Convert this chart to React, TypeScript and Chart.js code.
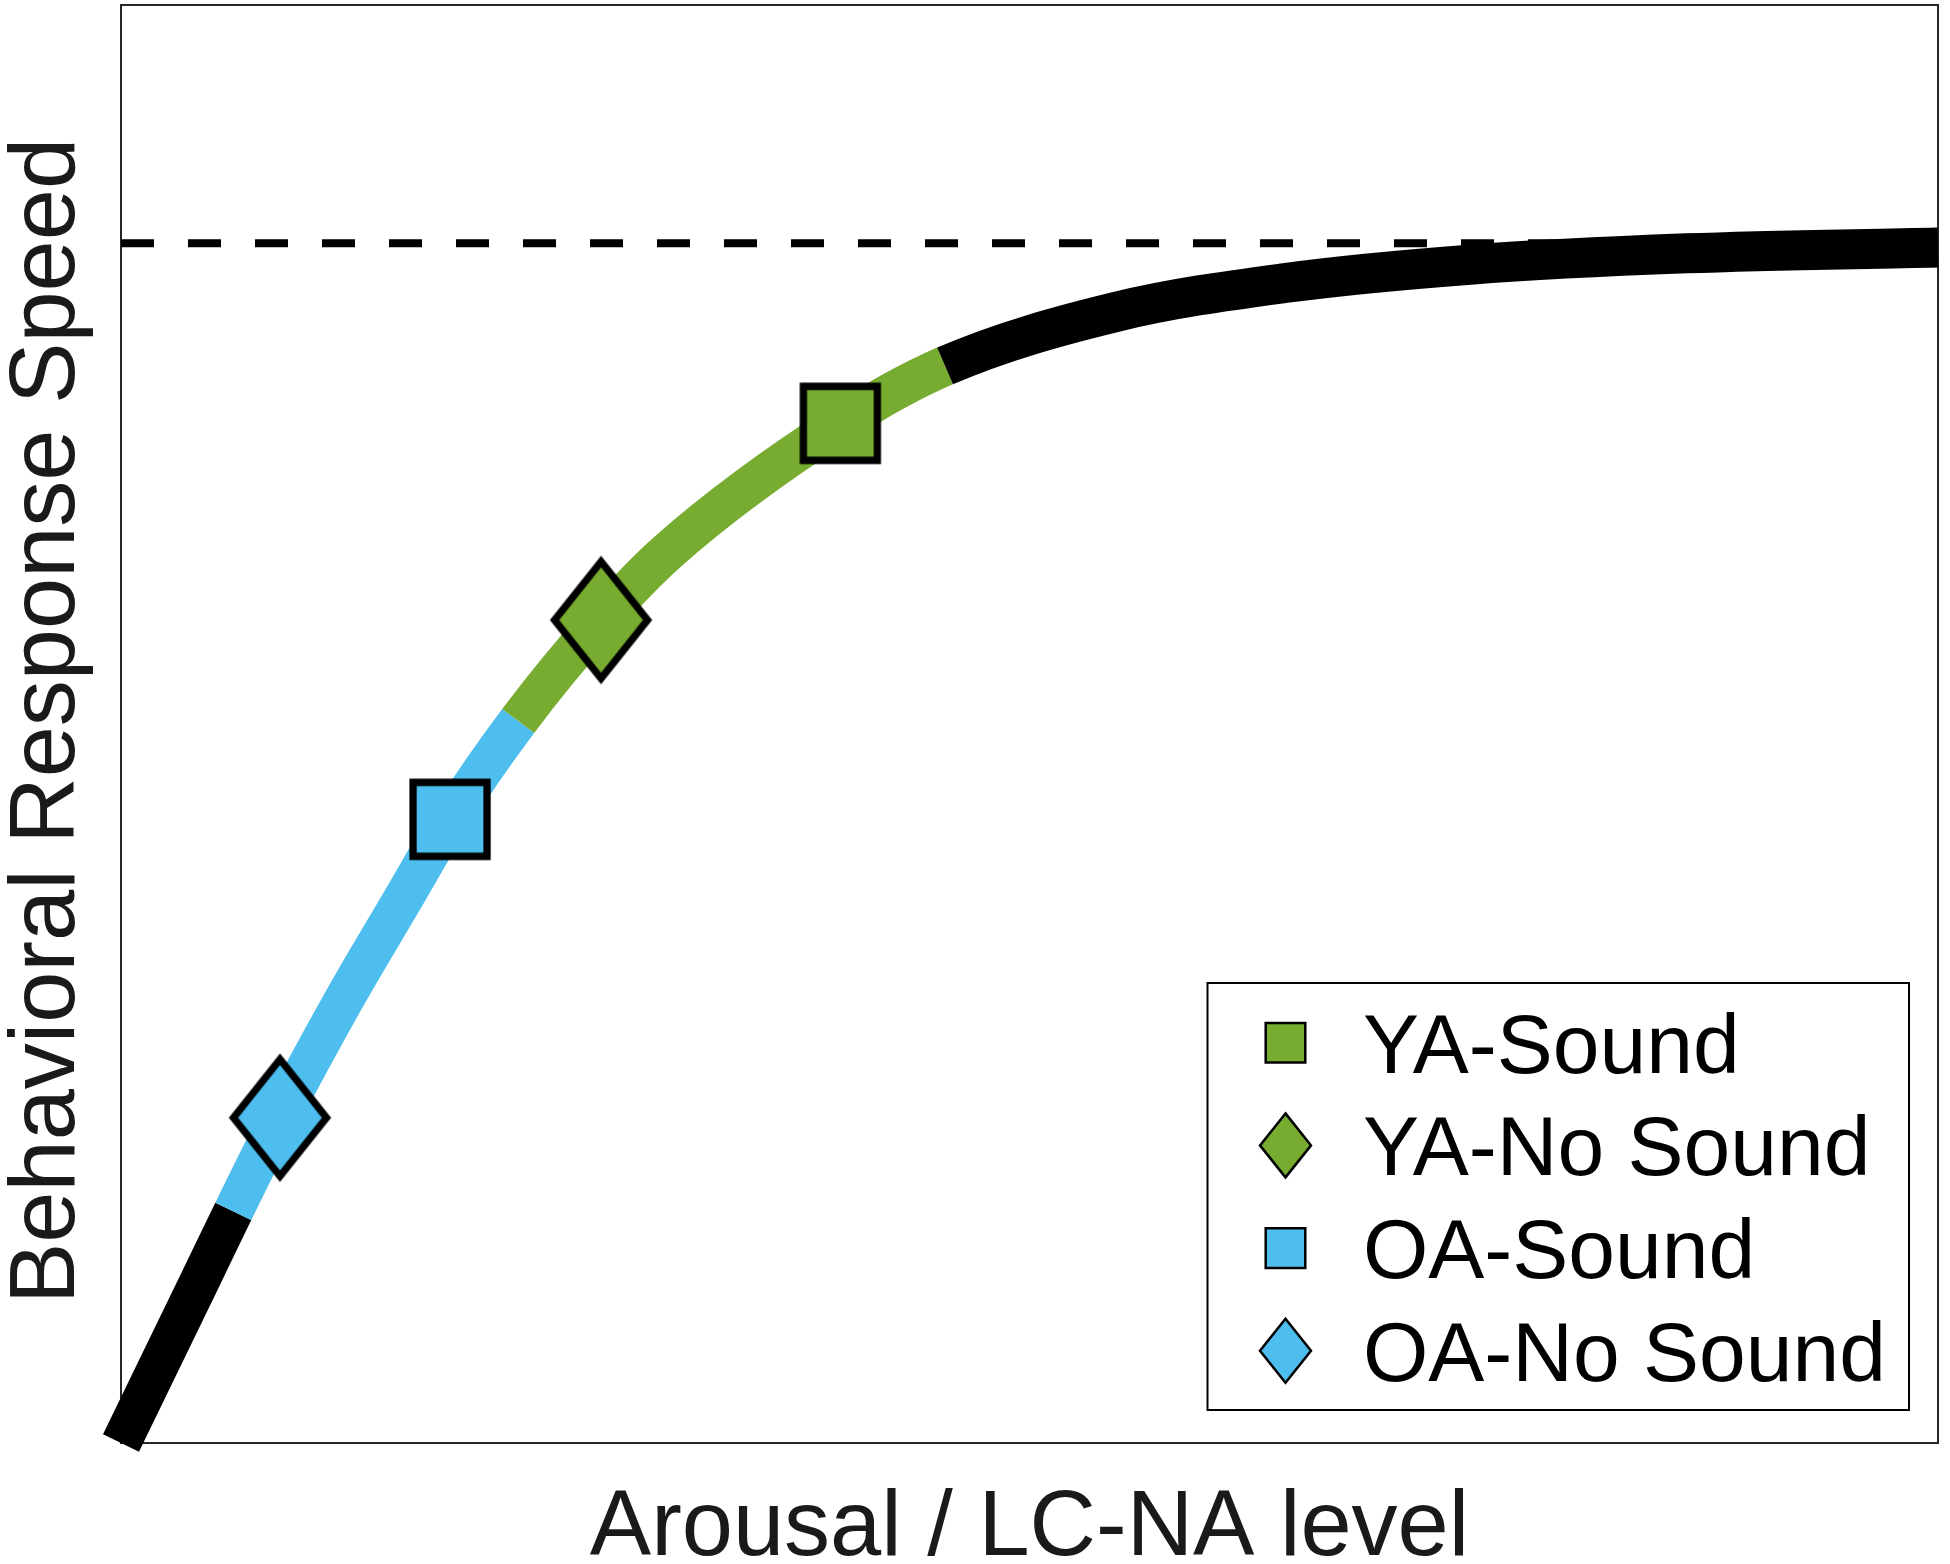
import React, { useEffect, useRef } from 'react';
import { Chart, registerables } from 'chart.js';

Chart.register(...registerables);

// ---- data ----
const curveX = [0, 4.27, 6.18, 8.75, 12.26, 15.46, 18.11, 21.86, 26.42, 30.1, 39.59, 45.35, 54.8, 63.97, 74.24, 86.17, 100];
const curveY = [0, 11.11, 16.11, 22.62, 30.81, 37.7, 43.37, 50.21, 57.23, 62.0, 70.91, 74.9, 78.67, 80.65, 81.94, 82.73, 83.14];
const segmentBreaksX = [6.18, 21.86, 45.35];
const segmentColors = ['#000000', '#4DBEEE', '#77AC30', '#000000'];
const asymptoteY = 83.43;
const asymptoteX = [0, 100];

const groupLabels = ['YA-Sound', 'YA-No Sound', 'OA-Sound', 'OA-No Sound'];
const groupX = [39.59, 26.42, 18.11, 8.75];
const groupY = [70.91, 57.23, 43.37, 22.62];
const groupColors = ['#77AC30', '#77AC30', '#4DBEEE', '#4DBEEE'];
const groupShapes = ['square', 'diamond', 'square', 'diamond'];

const xAxisTitle = 'Arousal / LC-NA level';
const yAxisTitle = 'Behavioral Response Speed';

const FONT = '"Liberation Sans", Arial, Helvetica, sans-serif';

function markerPath(ctx: CanvasRenderingContext2D, shape: string, cx: number, cy: number, hw: number, hh: number) {
  ctx.beginPath();
  if (shape === 'square') {
    ctx.rect(cx - hw, cy - hh, hw * 2, hh * 2);
  } else {
    ctx.moveTo(cx, cy - hh);
    ctx.lineTo(cx + hw, cy);
    ctx.lineTo(cx, cy + hh);
    ctx.lineTo(cx - hw, cy);
    ctx.closePath();
  }
}

function makeMarker(shape: string, color: string): HTMLCanvasElement {
  const c = document.createElement('canvas');
  const hw = shape === 'square' ? 37 : 46.5;
  const hh = shape === 'square' ? 37 : 58.5;
  c.width = Math.ceil(hw * 2 + 24);
  c.height = Math.ceil(hh * 2 + 24);
  const g = c.getContext('2d')!;
  markerPath(g, shape, c.width / 2, c.height / 2, hw, hh);
  g.fillStyle = color;
  g.fill();
  g.lineWidth = 7.3;
  g.lineJoin = 'miter';
  g.strokeStyle = '#000000';
  g.stroke();
  return c;
}

const decorPlugin = {
  id: 'decor',
  beforeDatasetsDraw(chart: any) {
    const { ctx, chartArea: a } = chart;
    ctx.save();
    ctx.strokeStyle = '#262626';
    ctx.lineWidth = 2;
    ctx.strokeRect(a.left, a.top, a.right - a.left, a.bottom - a.top);
    ctx.restore();
  },
  afterDraw(chart: any) {
    const { ctx, chartArea: a } = chart;
    ctx.save();
    ctx.fillStyle = '#1a1a1a';
    ctx.font = `92px ${FONT}`;
    ctx.textAlign = 'center';
    ctx.textBaseline = 'alphabetic';
    ctx.fillText(xAxisTitle, (a.left + a.right) / 2, a.bottom + 112);
    ctx.save();
    ctx.translate(74, (a.top + a.bottom) / 2 - 3);
    ctx.rotate(-Math.PI / 2);
    ctx.fillText(yAxisTitle, 0, 0);
    ctx.restore();

    // legend
    const bx = 1207.5, by = 983, bw = 701.5, bh = 427;
    ctx.fillStyle = '#ffffff';
    ctx.fillRect(bx, by, bw, bh);
    ctx.strokeStyle = '#000000';
    ctx.lineWidth = 2;
    ctx.strokeRect(bx, by, bw, bh);
    ctx.font = `84px ${FONT}`;
    ctx.textAlign = 'left';
    for (let i = 0; i < groupLabels.length; i++) {
      const base = by + 89.7 + i * 102.7;
      const mx = bx + 78;
      const my = base - 30;
      if (groupShapes[i] === 'square') markerPath(ctx, 'square', mx, my, 19.8, 19.8);
      else markerPath(ctx, 'diamond', mx, my, 25.5, 32);
      ctx.fillStyle = groupColors[i];
      ctx.fill();
      ctx.lineWidth = 2.5;
      ctx.strokeStyle = '#000000';
      ctx.stroke();
      ctx.fillStyle = '#000000';
      ctx.fillText(groupLabels[i], bx + 155.5, base);
    }
    ctx.restore();
  },
};

export default function App() {
  const ref = useRef<HTMLCanvasElement>(null);
  useEffect(() => {
    const canvas = ref.current;
    if (!canvas) return;
    const markerDatasets = groupLabels.map((label, i) => ({
      type: 'line' as const,
      label,
      data: [{ x: groupX[i], y: groupY[i] }],
      showLine: false,
      pointStyle: makeMarker(groupShapes[i], groupColors[i]),
      pointRadius: 10,
      pointHoverRadius: 10,
      backgroundColor: groupColors[i],
      borderColor: '#000000',
      clip: false,
      order: i,
    }));
    const chart = new Chart(canvas, {
      type: 'line',
      data: {
        datasets: [
          ...markerDatasets,
          {
            label: 'curve',
            data: curveX.map((x, i) => ({ x, y: curveY[i] })),
            borderWidth: 40,
            borderColor: '#000000',
            borderCapStyle: 'butt',
            cubicInterpolationMode: 'monotone',
            pointRadius: 0,
            pointHoverRadius: 0,
            clip: false,
            order: 10,
            segment: {
              borderColor: (c: any) => {
                const x = c.p0.parsed.x;
                let k = 0;
                while (k < segmentBreaksX.length && x >= segmentBreaksX[k] - 1e-9) k++;
                return segmentColors[k];
              },
            },
          } as any,
          {
            label: 'asymptote',
            data: asymptoteX.map((x) => ({ x, y: asymptoteY })),
            borderWidth: 8,
            borderColor: '#000000',
            borderDash: [33, 34],
            borderCapStyle: 'butt',
            pointRadius: 0,
            pointHoverRadius: 0,
            clip: false,
            order: 20,
          },
        ],
      },
      options: {
        responsive: false,
        devicePixelRatio: 1,
        animation: false,
        events: [],
        layout: { autoPadding: false, padding: { left: 121, top: 5, right: 12, bottom: 121 } },
        scales: {
          x: { type: 'linear', min: 0, max: 100, display: false },
          y: { type: 'linear', min: 0, max: 100, display: false },
        },
        plugins: {
          legend: { display: false },
          tooltip: { enabled: false },
        },
      },
      plugins: [decorPlugin],
    } as any);
    return () => chart.destroy();
  }, []);
  return (
    <div style={{ position: 'absolute', left: 0, top: 0, width: 1950, height: 1564, background: '#ffffff' }}>
      <canvas ref={ref} width={1950} height={1564} style={{ display: 'block', width: 1950, height: 1564 }} />
    </div>
  );
}
